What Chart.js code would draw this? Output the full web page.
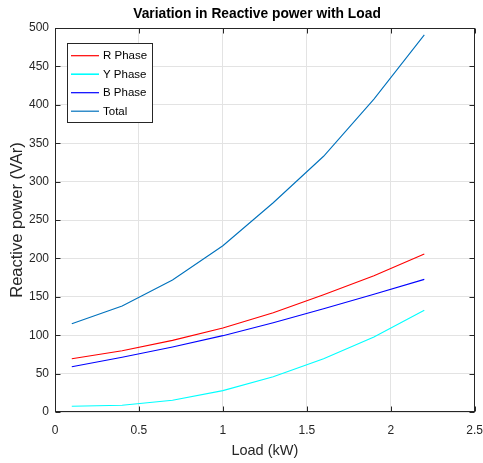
<!DOCTYPE html>
<html>
<head>
<meta charset="utf-8">
<script src="https://cdn.jsdelivr.net/npm/chart.js@4.4.1/dist/chart.umd.min.js"></script>
<style>
html,body{margin:0;padding:0;background:#fff;}
#wrap{width:483px;height:463px;position:relative;}
</style>
</head>
<body>
<div id="wrap"><canvas id="c" width="483" height="463"></canvas></div>
<script>
const loadKW = [0.1, 0.4, 0.7, 1.0, 1.3, 1.6, 1.9, 2.2];
const rPhase = [69.4, 79.8, 93.3, 109.4, 129.3, 152.8, 177.5, 205.7];
const yPhase = [7.4, 8.7, 15.2, 27.8, 46.0, 69.4, 97.7, 132.4];
const bPhase = [59.0, 71.2, 84.6, 99.4, 116.3, 134.5, 153.2, 172.7];
const total  = [115.0, 138.0, 172.0, 216.5, 272.5, 333.0, 407.5, 491.0];
const seriesNames = ['R Phase', 'Y Phase', 'B Phase', 'Total'];
const seriesColors = ['#ff0000', '#00ffff', '#0000ff', '#0072bd'];
const xTicks = [0, 0.5, 1, 1.5, 2, 2.5];
const chartTitle = 'Variation in Reactive power with Load';

const FONT = '"Liberation Sans", Arial, Helvetica, sans-serif';
const seriesData = [rPhase, yPhase, bPhase, total];

const datasets = seriesNames.map((name, i) => ({
  label: name,
  data: loadKW.map((x, j) => ({x: x, y: seriesData[i][j]})),
  borderColor: seriesColors[i],
  backgroundColor: seriesColors[i],
  borderWidth: 1.1,
  pointRadius: 0,
  tension: 0,
  fill: false
}));

const boxPlugin = {
  id: 'boxPlugin',
  afterDraw(chart) {
    const ctx = chart.ctx;
    const a = chart.chartArea;
    const xs = chart.scales.x, ys = chart.scales.y;
    ctx.save();
    // title
    ctx.fillStyle = '#000000';
    ctx.font = 'bold 13.8px ' + FONT;
    ctx.textAlign = 'center';
    ctx.textBaseline = 'middle';
    ctx.fillText(chartTitle, 257, 14.5);

    ctx.strokeStyle = '#262626';
    ctx.lineWidth = 1;
    const L = Math.round(a.left) + 0.5, R = Math.round(a.right) - 0.5;
    const T = Math.round(a.top) + 0.5, B = Math.round(a.bottom) - 0.5;
    ctx.strokeRect(L, T, R - L, B - T);
    ctx.beginPath();
    const tl = 5;
    xs.ticks.forEach(t => {
      const px = Math.round(xs.getPixelForValue(t.value)) + 0.5;
      ctx.moveTo(px, B); ctx.lineTo(px, B - tl);
      ctx.moveTo(px, T); ctx.lineTo(px, T + tl);
    });
    ys.ticks.forEach(t => {
      const py = Math.round(ys.getPixelForValue(t.value)) + 0.5;
      ctx.moveTo(L, py); ctx.lineTo(L + tl, py);
      ctx.moveTo(R, py); ctx.lineTo(R - tl, py);
    });
    ctx.stroke();

    // legend
    const lx = 67, ly = 43, lw = 85, lh = 79;
    ctx.fillStyle = '#ffffff';
    ctx.fillRect(lx, ly, lw, lh);
    ctx.strokeStyle = '#262626';
    ctx.strokeRect(lx + 0.5, ly + 0.5, lw, lh);
    ctx.font = '11.5px ' + FONT;
    ctx.textBaseline = 'middle';
    ctx.textAlign = 'left';
    const rows = [55.7, 74.2, 92.7, 111.2];
    chart.data.datasets.forEach((ds, i) => {
      ctx.strokeStyle = ds.borderColor;
      ctx.lineWidth = ds.label === 'Y Phase' ? 1.6 : 1.2;
      ctx.beginPath();
      ctx.moveTo(71, rows[i]);
      ctx.lineTo(99, rows[i]);
      ctx.stroke();
      ctx.fillStyle = '#000000';
      ctx.fillText(ds.label, 103, rows[i] + 0.5);
    });
    ctx.restore();
  }
};

new Chart(document.getElementById('c'), {
  type: 'line',
  data: { datasets: datasets },
  options: {
    responsive: false,
    animation: false,
    devicePixelRatio: 1,
    layout: { padding: { left: 0, right: 8, top: 28, bottom: 0 } },
    plugins: {
      legend: { display: false },
      tooltip: { enabled: false },
      title: { display: false }
    },
    scales: {
      x: {
        type: 'linear',
        min: 0, max: 2.5,
        afterBuildTicks: s => { s.ticks = xTicks.map(v => ({value: v})); },
        afterFit: s => { s.height = 51; },
        grid: { color: '#e3e3e3', lineWidth: 1, drawTicks: true, tickLength: 11, tickColor: 'rgba(0,0,0,0)' },
        border: { display: false },
        ticks: {
          color: '#262626', padding: 0,
          font: { family: FONT, size: 12 },
          maxRotation: 0,
          callback: v => String(v)
        },
        title: {
          display: true, text: 'Load (kW)', color: '#262626',
          font: { family: FONT, size: 14.5 }, padding: { top: 0, bottom: 3 }
        }
      },
      y: {
        type: 'linear',
        min: 0, max: 500,
        afterFit: s => { s.width = 55; },
        grid: { color: '#e3e3e3', lineWidth: 1, drawTicks: false },
        border: { display: false },
        ticks: {
          stepSize: 50, color: '#262626', padding: 6,
          font: { family: FONT, size: 12 }
        },
        title: {
          display: true, text: 'Reactive power (VAr)', color: '#262626',
          font: { family: FONT, size: 16.5 }, padding: { top: 8, bottom: 0 }
        }
      }
    }
  },
  plugins: [boxPlugin]
});
</script>
</body>
</html>
